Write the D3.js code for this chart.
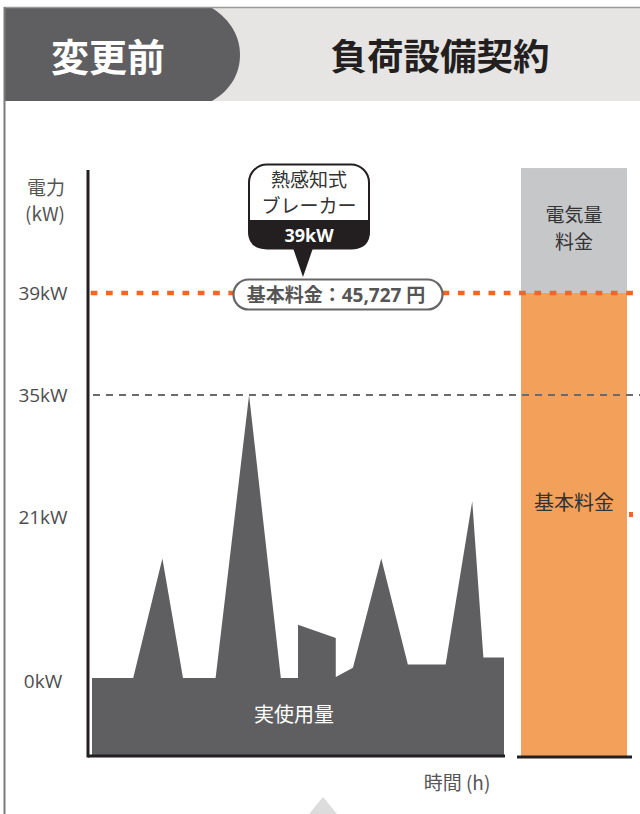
<!DOCTYPE html>
<html>
<head>
<meta charset="utf-8">
<script src="https://cdn.jsdelivr.net/npm/d3@7"></script>
<style>
body { margin: 0; background: #fff; }
svg { display: block; }
text { font-family: "Open Sans", "Noto Sans CJK JP", sans-serif; }
.jp { font-family: "Noto Sans CJK JP", sans-serif; }
</style>
</head>
<body>
<script>
// usage profile over one day (hours -> kW)
var hours   = [0, 2.4, 4.1, 5.3, 7.2, 9.15, 11.0, 12.0, 12.0, 14.2, 14.2, 15.2, 16.85, 18.4, 20.6, 22.15, 22.8, 24];
var usageKW = [0.4, 0.4, 15.7, 0.4, 0.4, 35, 0.4, 0.4, 7.2, 5.5, 0.5, 1.7, 15.7, 2.1, 2.1, 22.8, 3.0, 3.0];

var tickKW = [0, 21, 35, 39];
var contractKW = 39;     // breaker
var peakKW = 35;

var barParts = ["基本料金", "電気量料金"];
var barTops  = [39, 43.9];

var W = 640, H = 814;
var svg = d3.select("body").append("svg").attr("width", W).attr("height", H);

// ---- header ----
svg.append("rect").attr("x", 4).attr("y", 8).attr("width", W).attr("height", 93).attr("fill", "#e6e5e3");
svg.append("path")
    .attr("d", "M4,8 H212 C231,20 240,37 240,55 C240,73 231,90 212,101 H4 Z")
    .attr("fill", "#5f5f61");
svg.append("line").attr("x1", 4).attr("x2", W).attr("y1", 7.5).attr("y2", 7.5).attr("stroke", "#9a9a9a").attr("stroke-width", 1.5);
svg.append("line").attr("x1", 4.5).attr("x2", 4.5).attr("y1", 7).attr("y2", H).attr("stroke", "#7a7a7a").attr("stroke-width", 2);

svg.append("text").attr("class", "jp").attr("x", 108).attr("y", 71)
    .attr("text-anchor", "middle").attr("font-size", 38).attr("font-weight", 700)
    .attr("fill", "#fff").text("変更前");
svg.append("text").attr("class", "jp").attr("x", 440).attr("y", 70)
    .attr("text-anchor", "middle").attr("font-size", 36.5).attr("font-weight", 700)
    .attr("fill", "#231f20").text("負荷設備契約");

// ---- scales ----
var x = d3.scaleLinear().domain([0, 24]).range([92, 504]);
var y = d3.scaleLinear().domain(tickKW).range([681, 517, 395, 293]);
var plotBottom = 756;

// usage area
var area = d3.area()
    .x(function(d, i){ return x(hours[i]); })
    .y0(plotBottom)
    .y1(function(d){ return y(d); });

svg.append("path").datum(usageKW).attr("d", area).attr("fill", "#5f5f61");

svg.append("text").attr("class", "jp").attr("x", 294).attr("y", 722)
    .attr("text-anchor", "middle").attr("font-size", 20).attr("fill", "#fff").text("実使用量");

// ---- stacked bill bar ----
var barX0 = 521, barX1 = 627;
var barColors = ["#f2a05a", "#c6c7c9"];
svg.selectAll("rect.bar").data(barTops).enter().append("rect")
    .attr("class", "bar")
    .attr("x", barX0)
    .attr("width", barX1 - barX0)
    .attr("y", function(d){ return y(d); })
    .attr("height", function(d, i){ return (i === 0 ? plotBottom : y(barTops[i - 1])) - y(d); })
    .attr("fill", function(d, i){ return barColors[i]; });

svg.append("text").attr("class", "jp").attr("x", 574).attr("y", 510)
    .attr("text-anchor", "middle").attr("font-size", 20).attr("fill", "#333").text(barParts[0]);
svg.append("text").attr("class", "jp").attr("x", 574).attr("y", 222)
    .attr("text-anchor", "middle").attr("font-size", 19).attr("fill", "#333").text("電気量");
svg.append("text").attr("class", "jp").attr("x", 574).attr("y", 249)
    .attr("text-anchor", "middle").attr("font-size", 19).attr("fill", "#333").text("料金");

// small orange mark at right edge
svg.append("rect").attr("x", 629).attr("y", 512).attr("width", 4).attr("height", 5).attr("fill", "#f26522");

// ---- reference lines ----
svg.append("line")
    .attr("x1", 93).attr("x2", W).attr("y1", y(peakKW)).attr("y2", y(peakKW))
    .attr("stroke", "#6b6b6b").attr("stroke-width", 2.2).attr("stroke-dasharray", "7,6");

svg.append("line")
    .attr("x1", 90.7).attr("x2", W).attr("y1", y(contractKW)).attr("y2", y(contractKW))
    .attr("stroke", "#f26522").attr("stroke-width", 4.5).attr("stroke-dasharray", "6.7,8.6");

// ---- axes ----
svg.append("line").attr("x1", 88).attr("x2", 88).attr("y1", 170).attr("y2", plotBottom + 1.5)
    .attr("stroke", "#231f20").attr("stroke-width", 3);
svg.append("line").attr("x1", 88).attr("x2", 505).attr("y1", plotBottom).attr("y2", plotBottom)
    .attr("stroke", "#231f20").attr("stroke-width", 3);
svg.append("line").attr("x1", 517).attr("x2", 632).attr("y1", plotBottom + 1).attr("y2", plotBottom + 1)
    .attr("stroke", "#231f20").attr("stroke-width", 3);

var yAxis = d3.axisLeft(y).tickValues(tickKW).tickSize(0)
    .tickFormat(function(d){ return d + "kW"; });
var ga = svg.append("g").attr("transform", "translate(88,0)").call(yAxis);
ga.select(".domain").remove();
ga.selectAll("text")
    .attr("x", -45).attr("dy", "0.35em")
    .attr("text-anchor", "middle")
    .attr("font-size", 19)
    .attr("fill", "#4d4d4d")
    .style("font-family", "'Open Sans', sans-serif");

svg.append("text").attr("class", "jp").attr("x", 46).attr("y", 195)
    .attr("text-anchor", "middle").attr("font-size", 19).attr("fill", "#555").text("電力");
svg.append("text").attr("class", "jp").attr("x", 45).attr("y", 221)
    .attr("text-anchor", "middle").attr("font-size", 19).attr("fill", "#555").text("(kW)");

svg.append("text").attr("class", "jp").attr("x", 457).attr("y", 790)
    .attr("text-anchor", "middle").attr("font-size", 19).attr("fill", "#555").text("時間 (h)");

// bottom pointer
svg.append("path").attr("d", "M323,797 L337,814 L309,814 Z").attr("fill", "#dcdcdc");

// ---- breaker callout ----
var cb = svg.append("g");
cb.append("path")
    .attr("d", "M293,248 L313,248 L303,277 Z").attr("fill", "#231f20");
cb.append("rect").attr("x", 249).attr("y", 164.5).attr("width", 120).attr("height", 84)
    .attr("rx", 18).attr("fill", "#fff").attr("stroke", "#231f20").attr("stroke-width", 2);
cb.append("path")
    .attr("d", "M248,220 H370 V231 Q370,249 352,249 H266 Q248,249 248,231 Z")
    .attr("fill", "#231f20");
cb.append("text").attr("class", "jp").attr("x", 309).attr("y", 187)
    .attr("text-anchor", "middle").attr("font-size", 19).attr("fill", "#333").text("熱感知式");
cb.append("text").attr("class", "jp").attr("x", 309).attr("y", 213)
    .attr("text-anchor", "middle").attr("font-size", 19).attr("fill", "#333").text("ブレーカー");
cb.append("text").attr("x", 309).attr("y", 242).attr("text-anchor", "middle")
    .attr("font-size", 18).attr("font-weight", 700).attr("fill", "#fff").text(contractKW + "kW");

// ---- base fee pill ----
svg.append("rect").attr("x", 233.5).attr("y", 279.5).attr("width", 209).attr("height", 30)
    .attr("rx", 15).attr("fill", "#fff").attr("stroke", "#666").attr("stroke-width", 2.2);
var pt = svg.append("text").attr("x", 336).attr("y", 302).attr("text-anchor", "middle")
    .attr("font-size", 19).attr("font-weight", 700).attr("fill", "#555");
pt.append("tspan").attr("class", "jp").text("基本料金：");
pt.append("tspan").text("45,727 ");
pt.append("tspan").attr("class", "jp").text("円");
</script>
</body>
</html>
